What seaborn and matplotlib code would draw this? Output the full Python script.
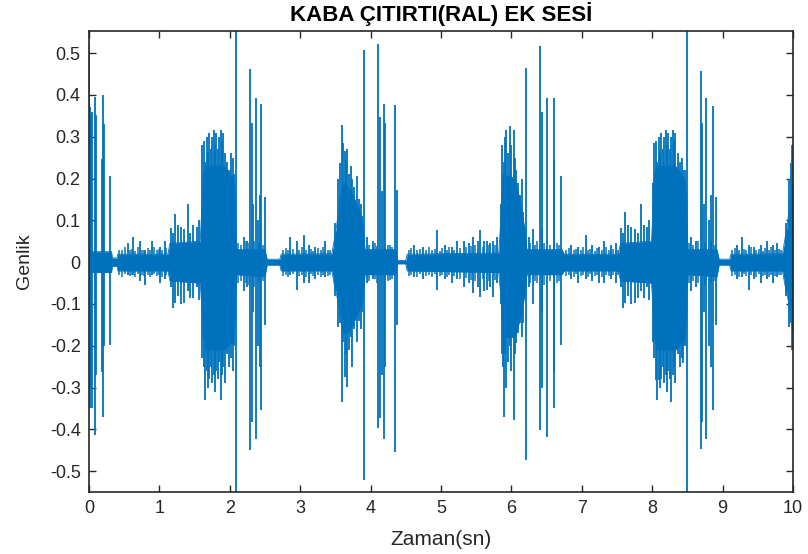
import numpy as np
import pandas as pd
import matplotlib
matplotlib.use("Agg")
import matplotlib.pyplot as plt
import seaborn as sns

# ---------------- data ----------------
# dense core envelope of the waveform (time s, upper, lower)
env_t = [0.00, 0.32, 0.33, 0.40, 0.41, 1.12, 1.15, 1.58, 1.60, 1.62, 1.66, 1.92, 2.05, 2.08, 2.09,
         2.50, 2.53, 2.71, 2.73, 3.45, 3.48, 3.52, 3.56, 3.61, 3.68, 3.75, 3.85, 3.89, 3.92,
         4.36, 4.38, 4.50, 4.52, 5.82, 5.85, 5.88, 6.05, 6.12, 6.19, 6.22,
         6.72, 6.75, 7.52, 7.55, 7.99, 8.01, 8.03, 8.07, 8.33, 8.46, 8.49, 8.50,
         8.92, 8.95, 9.10, 9.12, 9.85, 9.88, 9.92, 9.96, 10.0]
env_hi = [0.025, 0.025, 0.010, 0.010, 0.019, 0.019, 0.045, 0.05, 0.12, 0.21, 0.23, 0.23, 0.20, 0.15, 0.03,
          0.03, 0.007, 0.007, 0.019, 0.02, 0.05, 0.09, 0.15, 0.19, 0.18, 0.16, 0.12, 0.09, 0.03,
          0.03, 0.004, 0.004, 0.019, 0.022, 0.10, 0.21, 0.20, 0.15, 0.08, 0.03,
          0.03, 0.019, 0.019, 0.045, 0.05, 0.12, 0.21, 0.23, 0.23, 0.20, 0.15, 0.03,
          0.03, 0.007, 0.007, 0.019, 0.02, 0.05, 0.09, 0.15, 0.19]
env_lo = [-0.025, -0.025, -0.010, -0.010, -0.021, -0.021, -0.045, -0.05, -0.10, -0.18, -0.21, -0.21, -0.19, -0.12, -0.03,
          -0.035, -0.007, -0.007, -0.021, -0.021, -0.05, -0.08, -0.12, -0.17, -0.17, -0.15, -0.11, -0.09, -0.03,
          -0.03, -0.004, -0.004, -0.021, -0.025, -0.08, -0.18, -0.18, -0.14, -0.08, -0.03,
          -0.03, -0.021, -0.021, -0.045, -0.05, -0.10, -0.18, -0.21, -0.21, -0.19, -0.12, -0.03,
          -0.035, -0.007, -0.007, -0.021, -0.021, -0.05, -0.08, -0.12, -0.17]

# large individual spikes (time s, peak, trough)
spike_t = [0.003, 0.014, 0.030, 0.038, 0.085, 0.099, 0.189, 0.204, 0.212, 0.298,
           0.55, 0.63, 0.72, 0.80, 0.89, 1.01, 1.08,
           1.16, 1.19, 1.22, 1.26, 1.30, 1.35, 1.40, 1.44, 1.48, 1.53, 1.56,
           1.61, 1.63, 1.65, 1.67, 1.69, 1.71, 1.73, 1.75, 1.77, 1.79, 1.81, 1.83, 1.85, 1.87,
           1.89, 1.91, 1.93, 1.96, 1.99, 2.02, 2.04, 2.06,
           2.083, 2.20, 2.25, 2.29, 2.31, 2.33, 2.37, 2.40, 2.43, 2.45, 2.50,
           2.86, 2.95, 3.05, 3.12, 3.21, 3.35,
           3.50, 3.54, 3.57, 3.59, 3.61, 3.63, 3.65, 3.67, 3.69, 3.72, 3.74, 3.77, 3.80, 3.83, 3.86, 3.88,
           3.90, 3.95, 4.03, 4.11, 4.13, 4.16, 4.19, 4.20, 4.35, 4.37,
           4.62, 4.75, 4.94, 5.05, 5.15, 5.23, 5.32, 5.40, 5.46, 5.52, 5.56, 5.61, 5.65, 5.70, 5.74, 5.79,
           5.85, 5.86, 5.88, 5.89, 5.91, 5.93, 5.95, 5.98, 6.00, 6.03, 6.05, 6.07, 6.10, 6.12, 6.15, 6.17,
           6.21, 6.25, 6.30, 6.41, 6.43, 6.44, 6.50, 6.60, 6.61, 6.71,
           6.85, 6.95, 7.06, 7.15, 7.24, 7.31, 7.42, 7.48,
           7.56, 7.59, 7.62, 7.66, 7.70, 7.75, 7.80, 7.84, 7.88, 7.93, 7.96,
           8.01, 8.03, 8.05, 8.07, 8.09, 8.11, 8.13, 8.15, 8.17, 8.19, 8.21, 8.23, 8.25, 8.27,
           8.29, 8.31, 8.33, 8.36, 8.39, 8.42, 8.44, 8.46,
           8.49, 8.55, 8.62, 8.69, 8.71, 8.73, 8.77, 8.80, 8.83, 8.86, 8.91,
           9.20, 9.27, 9.37, 9.45, 9.55, 9.63, 9.72, 9.77,
           9.90, 9.94, 9.97, 9.99]
spike_hi = [0.52, 0.37, 0.355, 0.36, 0.395, 0.352, 0.246, 0.40, 0.33, 0.205,
            0.045, 0.06, 0.05, 0.03, 0.05, 0.035, 0.05,
            0.082, 0.07, 0.115, 0.09, 0.085, 0.08, 0.14, 0.07, 0.09, 0.085, 0.10,
            0.28, 0.29, 0.24, 0.30, 0.26, 0.31, 0.27, 0.30, 0.316, 0.28, 0.31, 0.27, 0.30, 0.316,
            0.29, 0.31, 0.26, 0.24, 0.22, 0.26, 0.25, 0.21,
            0.56, 0.06, 0.05, 0.462, 0.333, 0.14, 0.392, 0.10, 0.16, 0.379, 0.157,
            0.06, 0.05, 0.065, 0.04, 0.035, 0.05,
            0.094, 0.20, 0.237, 0.328, 0.285, 0.265, 0.245, 0.27, 0.21, 0.23, 0.20, 0.18, 0.205, 0.15, 0.14, 0.11,
            0.508, 0.06, 0.05, 0.522, 0.348, 0.17, 0.379, 0.333, 0.376, 0.173,
            0.04, 0.035, 0.078, 0.04, 0.035, 0.05, 0.05, 0.045, 0.061, 0.05, 0.077, 0.05, 0.05, 0.045, 0.05, 0.06,
            0.14, 0.28, 0.20, 0.24, 0.30, 0.317, 0.26, 0.325, 0.28, 0.317, 0.25, 0.22, 0.19, 0.16, 0.20, 0.12,
            0.464, 0.06, 0.08, 0.516, 0.08, 0.36, 0.392, 0.245, 0.392, 0.205,
            0.04, 0.035, 0.065, 0.04, 0.035, 0.05, 0.04, 0.045,
            0.082, 0.07, 0.12, 0.09, 0.085, 0.08, 0.07, 0.14, 0.09, 0.085, 0.10,
            0.19, 0.285, 0.29, 0.24, 0.30, 0.26, 0.31, 0.27, 0.30, 0.316, 0.28, 0.31, 0.27, 0.30,
            0.316, 0.29, 0.31, 0.26, 0.24, 0.249, 0.22, 0.221,
            0.56, 0.06, 0.05, 0.458, 0.333, 0.14, 0.392, 0.10, 0.16, 0.374, 0.157,
            0.04, 0.06, 0.04, 0.035, 0.04, 0.05, 0.04, 0.045,
            0.094, 0.20, 0.237, 0.28]
spike_lo = [-0.11, -0.35, -0.30, -0.35, -0.414, -0.27, -0.262, -0.37, -0.20, -0.198,
            -0.03, -0.03, -0.045, -0.055, -0.03, -0.05, -0.04,
            -0.06, -0.11, -0.098, -0.08, -0.10, -0.098, -0.07, -0.085, -0.085, -0.06, -0.09,
            -0.23, -0.25, -0.33, -0.26, -0.30, -0.28, -0.25, -0.29, -0.27, -0.31, -0.26, -0.28, -0.24, -0.33,
            -0.27, -0.25, -0.29, -0.22, -0.25, -0.23, -0.26, -0.20,
            -0.56, -0.07, -0.06, -0.450, -0.382, -0.12, -0.422, -0.20, -0.25, -0.354, -0.150,
            -0.03, -0.067, -0.05, -0.05, -0.04, -0.035,
            -0.08, -0.155, -0.146, -0.334, -0.19, -0.274, -0.22, -0.298, -0.21, -0.18, -0.25, -0.16, -0.19, -0.14, -0.16, -0.12,
            -0.521, -0.05, -0.04, -0.398, -0.374, -0.27, -0.422, -0.25, -0.454, -0.15,
            -0.035, -0.04, -0.067, -0.04, -0.05, -0.04, -0.06, -0.05, -0.075, -0.06, -0.083, -0.07, -0.067, -0.06, -0.083, -0.05,
            -0.10, -0.22, -0.25, -0.37, -0.22, -0.30, -0.24, -0.20, -0.26, -0.378, -0.22, -0.194, -0.17, -0.146, -0.18, -0.146,
            -0.474, -0.06, -0.10, -0.402, -0.12, -0.30, -0.418, -0.262, -0.35, -0.198,
            -0.04, -0.05, -0.04, -0.045, -0.05, -0.05, -0.04, -0.05,
            -0.06, -0.11, -0.098, -0.08, -0.10, -0.098, -0.085, -0.07, -0.085, -0.06, -0.09,
            -0.19, -0.23, -0.282, -0.33, -0.282, -0.30, -0.28, -0.25, -0.29, -0.27, -0.31, -0.26, -0.28, -0.334,
            -0.27, -0.25, -0.29, -0.22, -0.25, -0.23, -0.242, -0.20,
            -0.56, -0.07, -0.06, -0.446, -0.382, -0.12, -0.422, -0.20, -0.25, -0.354, -0.150,
            -0.04, -0.035, -0.067, -0.04, -0.05, -0.04, -0.05, -0.035,
            -0.08, -0.155, -0.146, -0.21]

# small background-noise spikes (time s, peak, trough)
noise_t = [0.43, 0.47, 0.51, 0.58, 0.61, 0.66, 0.69, 0.75, 0.78, 0.84, 0.87, 0.93, 0.96, 0.99, 1.04, 1.10,
           2.12, 2.16, 2.23, 2.27, 2.35, 2.42, 2.47,
           2.76, 2.80, 2.83, 2.90, 2.99, 3.02, 3.08, 3.15, 3.18, 3.25, 3.29, 3.32, 3.39, 3.42,
           3.98, 4.06, 4.09, 4.25, 4.28, 4.31,
           4.55, 4.58, 4.66, 4.70, 4.79, 4.83, 4.87, 4.91, 4.98, 5.01, 5.09, 5.12, 5.19, 5.27, 5.36,
           5.43, 5.49, 5.59, 5.68, 5.77,
           6.27, 6.34, 6.37, 6.47, 6.55, 6.65, 6.68,
           6.78, 6.82, 6.89, 6.92, 6.99, 7.02, 7.09, 7.12, 7.19, 7.21, 7.28, 7.35, 7.38, 7.45, 7.51,
           8.52, 8.58, 8.65, 8.75, 8.84, 8.89,
           9.14, 9.17, 9.23, 9.30, 9.33, 9.40, 9.48, 9.51, 9.58, 9.60, 9.66, 9.69, 9.75, 9.80, 9.83]
noise_hi = [0.03, 0.028, 0.035, 0.03, 0.032, 0.027, 0.035, 0.03, 0.028, 0.033, 0.03, 0.036, 0.029, 0.031, 0.03, 0.034,
            0.045, 0.04, 0.05, 0.045, 0.05, 0.045, 0.04,
            0.03, 0.034, 0.028, 0.032, 0.03, 0.036, 0.029, 0.031, 0.027, 0.033, 0.03, 0.035, 0.029, 0.03,
            0.04, 0.045, 0.038, 0.042, 0.04, 0.036,
            0.03, 0.034, 0.028, 0.032, 0.03, 0.036, 0.029, 0.031, 0.027, 0.033, 0.03, 0.035, 0.029, 0.033, 0.035,
            0.038, 0.04, 0.036, 0.042, 0.04,
            0.045, 0.04, 0.05, 0.045, 0.04, 0.045, 0.04,
            0.03, 0.034, 0.028, 0.032, 0.03, 0.036, 0.029, 0.031, 0.027, 0.033, 0.03, 0.035, 0.029, 0.031, 0.03,
            0.045, 0.04, 0.05, 0.045, 0.05, 0.04,
            0.03, 0.034, 0.028, 0.032, 0.03, 0.036, 0.029, 0.031, 0.027, 0.033, 0.03, 0.035, 0.029, 0.031, 0.03]
noise_lo = [-0.03, -0.035, -0.028, -0.033, -0.03, -0.036, -0.029, -0.03, -0.034, -0.03, -0.035, -0.028, -0.032, -0.03, -0.036, -0.03,
            -0.05, -0.045, -0.05, -0.055, -0.06, -0.05, -0.045,
            -0.033, -0.03, -0.036, -0.029, -0.034, -0.03, -0.035, -0.028, -0.032, -0.03, -0.036, -0.03, -0.033, -0.031,
            -0.045, -0.04, -0.05, -0.045, -0.042, -0.04,
            -0.033, -0.03, -0.036, -0.029, -0.034, -0.03, -0.035, -0.028, -0.032, -0.03, -0.036, -0.03, -0.033, -0.04, -0.038,
            -0.042, -0.045, -0.04, -0.045, -0.042,
            -0.05, -0.045, -0.05, -0.055, -0.045, -0.05, -0.045,
            -0.033, -0.03, -0.036, -0.029, -0.034, -0.03, -0.035, -0.028, -0.032, -0.03, -0.036, -0.03, -0.033, -0.03, -0.031,
            -0.05, -0.045, -0.05, -0.055, -0.05, -0.045,
            -0.033, -0.03, -0.036, -0.029, -0.034, -0.03, -0.035, -0.028, -0.032, -0.03, -0.036, -0.03, -0.033, -0.03, -0.031]

x_ticks = [0, 1, 2, 3, 4, 5, 6, 7, 8, 9, 10]
y_ticks = [-0.5, -0.4, -0.3, -0.2, -0.1, 0.0, 0.1, 0.2, 0.3, 0.4, 0.5]
y_tick_labels = ["-0.5", "-0.4", "-0.3", "-0.2", "-0.1", "0", "0.1", "0.2", "0.3", "0.4", "0.5"]

title_text = "KABA ÇITIRTI(RAL) EK SESİ"
x_label = "Zaman(sn)"
y_label = "Genlik"

# ---------------- styling ----------------
sns.set_theme(style="ticks")
plt.rcParams["font.family"] = ["Liberation Sans", "DejaVu Sans"]
plt.rcParams["axes.unicode_minus"] = False

line_color = "#0072BD"
ink = "#262626"

fig = plt.figure(figsize=(8.08, 5.54), dpi=100)
ax = fig.add_axes([89 / 808, 1 - 492 / 554, (793 - 89) / 808, (492 - 31) / 554])

env = pd.DataFrame({"t": env_t, "hi": env_hi, "lo": env_lo})
spk = pd.DataFrame({"t": spike_t, "hi": spike_hi, "lo": spike_lo})
nse = pd.DataFrame({"t": noise_t, "hi": noise_hi, "lo": noise_lo})

ax.fill_between(env["t"], env["lo"], env["hi"], color=line_color, linewidth=0)
sns.lineplot(data=env, x="t", y="hi", ax=ax, color=line_color, linewidth=0.6)
sns.lineplot(data=env, x="t", y="lo", ax=ax, color=line_color, linewidth=0.6)
ax.vlines(nse["t"], nse["lo"], nse["hi"], color=line_color, linewidth=1.1)
ax.vlines(spk["t"], spk["lo"], spk["hi"], color=line_color, linewidth=1.3)

ax.set_xlim(0, 10)
ax.set_ylim(-0.55, 0.553)
ax.set_xticks(x_ticks)
ax.set_xticklabels([str(v) for v in x_ticks])
ax.set_yticks(y_ticks)
ax.set_yticklabels(y_tick_labels)

for s in ax.spines.values():
    s.set_visible(True)
    s.set_color(ink)
    s.set_linewidth(1.2)
ax.tick_params(direction="in", length=5, width=1.0, color=ink, labelcolor=ink,
               labelsize=13, top=True, right=True, pad=6)

ax.set_xlabel(x_label, fontsize=15, color=ink)
ax.set_ylabel(y_label, fontsize=14, color=ink)
ax.xaxis.set_label_coords(0.5, -0.082)
ax.yaxis.set_label_coords(-0.08, 0.5)
ax.set_title(title_text, fontsize=16, fontweight="bold", color="black", pad=7)

fig.savefig("out.png", dpi=100)
